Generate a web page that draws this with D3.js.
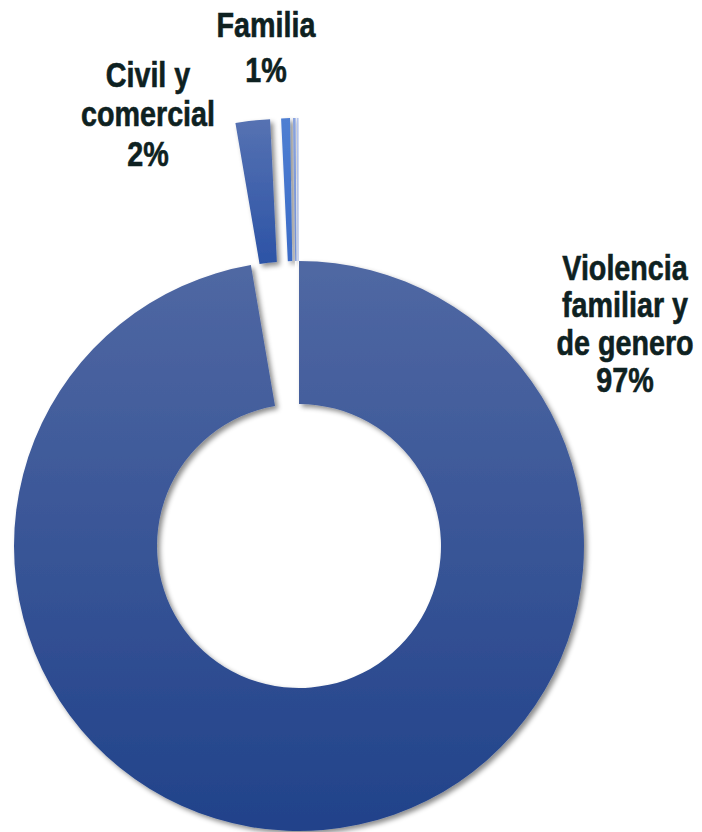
<!DOCTYPE html>
<html>
<head>
<meta charset="utf-8">
<script src="https://cdn.jsdelivr.net/npm/d3@7"></script>
<style>
  html, body { margin: 0; padding: 0; background: #fff; }
  svg { display: block; }
  .lbl { font-family: "Liberation Sans", Arial, sans-serif; font-weight: bold; fill: #0e2121; stroke: #0e2121; stroke-width: 0.6px; }
</style>
</head>
<body>
<div id="chart"></div>
<script>
// datos
const categorias = ["Violencia familiar y de genero", "Civil y comercial", "Familia", "Otros A", "Otros B"];
const valores = [97.3, 1.95, 0.5, 0.15, 0.1];
const etiquetas = [["Violencia", "familiar y", "de genero"], ["Civil y", "comercial"], ["Familia"], null, null];

// colores (arriba / abajo del degradado)
const colorArriba = ["#5068a3", "#5672b2", "#4f7fd2", "#8ba4de", "#b7c6ee"];
const colorAbajo = ["#21428a", "#2c53a6", "#3a6bc7", "#6f8fd6", "#9db2e6"];

// posiciones de las etiquetas (centro x, linea base de la primera linea, interlineado)
const posEtiqueta = [
  { x: 625, y: 280, lh: 37.5 },
  { x: 148, y: 87, lh: 39.5 },
  { x: 266, y: 37, lh: 45 },
];

const width = 702, height = 832;
const cx = 299, cy = 546;
const radioExt = 285, radioInt = 142;
const separacion = 143;
const estrechar = 0.82; // simula Arial Narrow

const svg = d3.select("#chart").append("svg")
  .attr("width", width)
  .attr("height", height);

const defs = svg.append("defs");

const filtro = defs.append("filter")
  .attr("id", "sombra")
  .attr("x", "-20%").attr("y", "-20%")
  .attr("width", "140%").attr("height", "140%");
filtro.append("feDropShadow")
  .attr("dx", 3).attr("dy", 3)
  .attr("stdDeviation", 2.5)
  .attr("flood-color", "#000")
  .attr("flood-opacity", 0.45);

categorias.forEach((c, i) => {
  const g = defs.append("linearGradient")
    .attr("id", "grad" + i)
    .attr("x1", 0).attr("y1", 0).attr("x2", 0).attr("y2", 1);
  g.append("stop").attr("offset", "0%").attr("stop-color", colorArriba[i]);
  g.append("stop").attr("offset", "100%").attr("stop-color", colorAbajo[i]);
});

const datos = categorias.map((c, i) => ({ categoria: c, valor: valores[i], i }));

const pie = d3.pie().sort(null).value((d) => d.valor).startAngle(0).endAngle(2 * Math.PI);
const arcos = pie(datos);

const arc = d3.arc().innerRadius(radioInt).outerRadius(radioExt);

const grupo = svg.append("g")
  .attr("transform", `translate(${cx}, ${cy})`);

grupo.selectAll("path.porcion")
  .data(arcos)
  .enter()
  .append("path")
  .attr("class", "porcion")
  .attr("d", arc)
  .attr("fill", (d) => `url(#grad${d.data.i})`)
  .attr("filter", "url(#sombra)")
  .attr("transform", (d) => {
    if (d.index === 0) return null;
    const a = (d.startAngle + d.endAngle) / 2;
    return `translate(${Math.sin(a) * separacion}, ${-Math.cos(a) * separacion})`;
  });

// etiquetas
arcos.forEach((d) => {
  const lineas = etiquetas[d.index];
  if (!lineas) return;
  const p = posEtiqueta[d.index];
  const texto = svg.append("text")
    .attr("class", "lbl")
    .attr("text-anchor", "middle")
    .attr("transform", `translate(${p.x}, 0) scale(${estrechar}, 1)`)
    .style("font-size", "35px");
  lineas.concat([Math.round(d.data.valor) + "%"]).forEach((l, k) => {
    texto.append("tspan")
      .attr("x", 0)
      .attr("y", p.y + k * p.lh)
      .text(l);
  });
});
</script>
</body>
</html>
